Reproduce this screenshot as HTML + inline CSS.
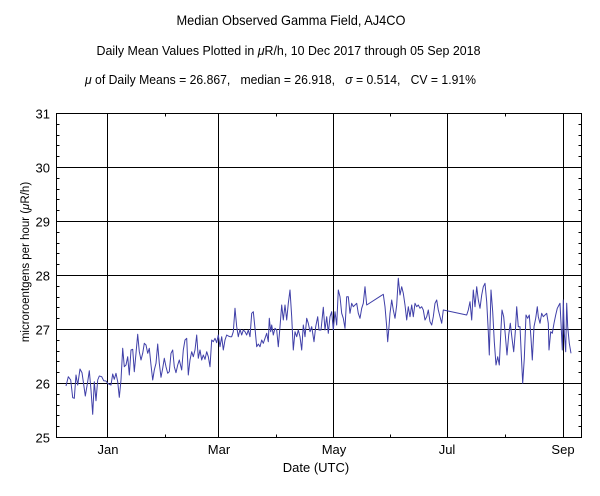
<!DOCTYPE html>
<html><head><meta charset="utf-8"><style>
html,body{margin:0;padding:0;background:#fff;}
svg{display:block;font-family:"Liberation Sans",Arial,sans-serif;}
</style></head><body>
<svg width="600" height="496" viewBox="0 0 600 496" xmlns="http://www.w3.org/2000/svg">
<rect width="600" height="496" fill="#fff"/>
<text x="176.5" y="25" font-size="14" textLength="229" lengthAdjust="spacingAndGlyphs">Median Observed Gamma Field, AJ4CO</text>
<text x="96.5" y="55" font-size="13" textLength="384" lengthAdjust="spacingAndGlyphs">Daily Mean Values Plotted in <tspan font-style="italic">μ</tspan>R/h, 10 Dec 2017 through 05 Sep 2018</text>
<text x="85" y="84" font-size="13" textLength="391" lengthAdjust="spacingAndGlyphs" xml:space="preserve"><tspan font-style="italic">μ</tspan> of Daily Means = 26.867,   median = 26.918,   <tspan font-style="italic">σ</tspan> = 0.514,   CV = 1.91%</text>

<g stroke="#000" stroke-width="1" fill="none" shape-rendering="crispEdges">
<rect x="56.5" y="113.5" width="525" height="324"/>
<path d="M56.5 167.5H581.5M56.5 221.5H581.5M56.5 275.5H581.5M56.5 329.5H581.5M56.5 383.5H581.5"/>
<path d="M107.5 113.5V437.5M218.5 113.5V437.5M333.5 113.5V437.5M447.5 113.5V437.5M563.5 113.5V437.5"/>
<path d="M165.5 437.5v-3M276.5 437.5v-3M390.5 437.5v-3M505.5 437.5v-3M165.5 113.5v3M276.5 113.5v3M390.5 113.5v3M505.5 113.5v3"/>
<path d="M56.5 124.5h3M56.5 135.5h3M56.5 145.5h3M56.5 156.5h3M56.5 178.5h3M56.5 189.5h3M56.5 199.5h3M56.5 210.5h3M56.5 232.5h3M56.5 243.5h3M56.5 253.5h3M56.5 264.5h3M56.5 286.5h3M56.5 297.5h3M56.5 307.5h3M56.5 318.5h3M56.5 340.5h3M56.5 351.5h3M56.5 361.5h3M56.5 372.5h3M56.5 394.5h3M56.5 405.5h3M56.5 415.5h3M56.5 426.5h3"/>
<path d="M581.5 124.5h-3M581.5 135.5h-3M581.5 145.5h-3M581.5 156.5h-3M581.5 178.5h-3M581.5 189.5h-3M581.5 199.5h-3M581.5 210.5h-3M581.5 232.5h-3M581.5 243.5h-3M581.5 253.5h-3M581.5 264.5h-3M581.5 286.5h-3M581.5 297.5h-3M581.5 307.5h-3M581.5 318.5h-3M581.5 340.5h-3M581.5 351.5h-3M581.5 361.5h-3M581.5 372.5h-3M581.5 394.5h-3M581.5 405.5h-3M581.5 415.5h-3M581.5 426.5h-3"/>
</g>

<g font-size="13" text-anchor="end">
<text x="50" y="118.5">31</text>
<text x="50" y="172.5">30</text>
<text x="50" y="226.5">29</text>
<text x="50" y="280.5">28</text>
<text x="50" y="334.5">27</text>
<text x="50" y="388.5">26</text>
<text x="50" y="442.5">25</text>
</g>
<g font-size="13" text-anchor="middle">
<text x="108" y="454">Jan</text>
<text x="219" y="454">Mar</text>
<text x="334" y="454">May</text>
<text x="447" y="454">Jul</text>
<text x="563" y="454">Sep</text>
<text x="316" y="472">Date (UTC)</text>
</g>
<text transform="translate(29,262) rotate(-90)" font-size="11.5" text-anchor="middle">microroentgens per hour (<tspan font-style="italic">μ</tspan>R/h)</text>

<polyline fill="none" stroke="#3f3fa8" stroke-width="1" stroke-linejoin="round" points="
66,386 68.3,376.7 70.7,380 72.7,397.7 74.3,398.3 76,375 77.7,385 80,369 82,372.7 83.3,381.7 85.3,396 87.7,381.7 89.3,370.7 91,390 92.7,414.3 94.3,381.7 96,400.7 97.7,380 99.3,376 101.7,376.7 103.7,380.7 106,381 107.7,383.3 109.3,384.3 111,385 112.7,374 114.3,379.3 116,373.3 117.7,381.7 119.3,397.3 121,380 122.7,348.3 124.3,366.7 126,365 127.7,356.7 129.3,375 131,350 132.7,349.3 134.3,371.7 136,353.3 137.7,334.3 139.3,351.7 141,360 142.7,353.3 144.3,343.3 146,345 147.7,353.3 149.3,348.3 151,365 152.7,380 154.3,370 156,363.3 157.7,344 159.3,363.3 161,377.3 162.7,368.3 164.3,358.3 166,366.7 167.7,373.3 169.3,371.7 171,353.3 172.7,350 174.3,366.7 176,372.7 177.7,365 179.3,360
181.7,370 183.3,350 185,340 186.7,338.3 188.3,375 190,360 191.7,351.7 193.3,356.7 195,350 196.7,335 198.3,358.3 200,350 201.7,360 203.3,355 205,359.3 206.7,351.7 208.3,356.7 210,366.7 211.7,340 213.3,341.7 215,338.3 216.7,342.7 218.3,335 220,346.7 221.7,336.7 223.3,350 225,340 226.7,335 228.3,336 230,336.7 231.7,336.7 233.3,331.7 235,308.3 236.7,326.7 238.3,336.7 240,329.3 241.7,335 243.3,330 245,331.7 246.7,335 248.3,330 250,336.7 251.7,313.3 253.3,311.7 255,328.3 256.7,346.7 258.3,344 260,346.7 261.7,340 263.3,343.3 265,338.3 266.7,333.3 268.3,341.7 269.3,318.3 270.7,331.7 271.7,325 273.3,335 275,328.3 276.7,330 278.3,346.7 280,326.7 281.7,305 283.3,320 285,305 286.7,320 288.3,303.3 290,290 291.7,316.7 293.3,350 295,331.7 296.7,336.7 298.3,330 300,336.7 301.7,350 303.3,325
305,336.7 306.7,318.3 308.3,323.3 310,331.7 311.7,326.7 314,341.7 315.7,326.7 317.7,316.7 319,330 321,330 323.3,307.3 325,330 326.7,316.7 328.3,333.3 330,316.7 331.7,311.7 333.3,330 335,311.7 336.7,325 338.3,290 340,296.7 341.7,313.3 343.3,318.3 345,328.3 346.7,296.7 348.3,296.7 350,313.3 351.7,303.3 353.3,306.7 355,305 356.7,303.3 358.3,313.3 360,318.3 361.7,308.3 363.3,303.3 365,286.7 366.7,305 383.3,294.3 385,306.7 386.7,326.7 387.7,341.7 389,326.7 390,313.3 391.7,300 393.3,310 395,318.3 396.7,305 398.3,278.3 400,295 401.7,286.7 403.3,293.3 405,305 406.7,320 408.3,306.7 410,316.7 411.7,305 413.3,316.7 415,303.3 416.7,306.7 418.3,305 420,308.3 421.7,306.7 423.3,310 425,320 426.7,316.7 428.3,310 430,321.7 431.7,325 433.3,316.7 435,303.3 436.7,300 438.3,310 440,316.7 441.7,323.3 443.3,310
466.7,315 468.3,310 470,301.7 471.7,320 473.3,290 475,306.7 476.7,286.7 478.3,300 480,308.3 481.7,295 483.3,286.7 485,283.3 486.7,301.7 488.3,331.7 489.3,355 491,290 492.7,311.7 494.3,341.7 496,365 497.7,356.7 499.3,365 501,328.3 502,310 503.7,316.7 505.3,335 507,355 508.7,335 510.3,323.3 512,338.3 513.7,351.7 515.3,331.7 516.7,306.7 518.3,326.7 520,326.7 521.3,355 522.7,383.3 524.3,358.3 526,315 527.7,318.3 529.3,315 531,338.3 532.3,360 534,326.7
535.7,318.3 537.3,306.7 538.3,316.7 540,323.3 541.7,313.3 543.3,316.7 545,315 546.7,313.3 548.3,323.3 549,350 550.7,331.7 552.3,333.3 554,323.3 555.7,315 557.3,308.3 559,305 560,303.3 561,323.3 562.3,350 563.3,300 564.3,333.3 565.7,351.7 566.7,303.3 567.7,326.7 569.3,343.3 571,353.3"/>
</svg>
</body></html>
